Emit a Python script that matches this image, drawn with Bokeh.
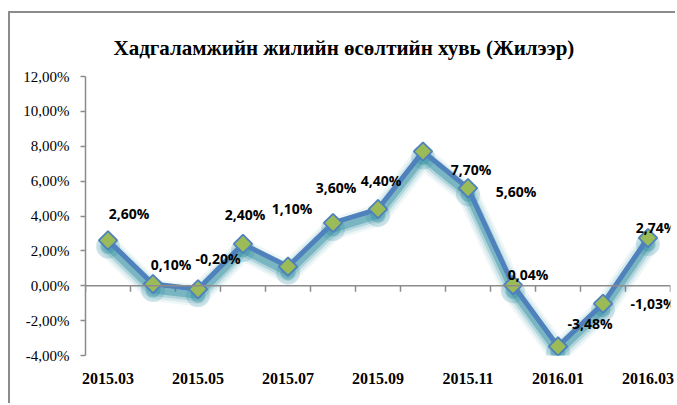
import math
from bokeh.plotting import figure
from bokeh.models import (Range1d, FixedTicker, Span, Title,
                          ColumnDataSource, LinearAxis)
from bokeh.core.properties import value
from bokeh.embed import file_html
from bokeh.resources import INLINE

# ---- data ----
categories = ["2015.03", "2015.04", "2015.05", "2015.06", "2015.07", "2015.08",
              "2015.09", "2015.10", "2015.11", "2015.12", "2016.01", "2016.02", "2016.03"]
growth = [2.60, 0.10, -0.20, 2.40, 1.10, 3.60, 4.40, 7.70, 5.60, 0.04, -3.48, -1.03, 2.74]
point_labels = ["2,60%", "0,10%", "-0,20%", "2,40%", "1,10%", "3,60%", "4,40%",
                "7,70%", "5,60%", "0,04%", "-3,48%", "-1,03%", "2,74%"]
y_ticks = [-4, -2, 0, 2, 4, 6, 8, 10, 12]
title_text = "Хадгаламжийн жилийн өсөлтийн хувь (Жилээр)"

# label placement (style, screen px)
label_dx = [21, 18, 20, 2, 4, 3, 3, 48, 48, 15, 32, 50, 8]
label_dy = [-27, -20, -31, -29, -58, -35, -29, 18, 3, -11, -23, 0, -10]

xs = list(range(len(categories)))
src = ColumnDataSource(dict(x=xs, y=growth, lab=point_labels, dx=label_dx, dy=label_dy))

p = figure(width=667, height=392, output_backend="svg", toolbar_location=None,
           x_range=Range1d(-0.5, len(categories) - 0.5), y_range=Range1d(-4, 12),
           min_border_left=75, min_border_right=7, min_border_top=63, min_border_bottom=50,
           x_axis_location=None, y_axis_location=None)
p.styles = {"border-left": "2px solid #8c8c8c", "border-top": "2px solid #8c8c8c",
            "margin-left": "8px", "margin-top": "11px"}
p.grid.visible = False
p.outline_line_color = None
p.background_fill_color = "white"
p.border_fill_color = "white"

# shadow range (shifted so that the glow sits a few px below the line)
p.extra_y_ranges = {"shadow": Range1d(-4 + 0.35, 12 + 0.35)}

# y axis
yax = LinearAxis(ticker=FixedTicker(ticks=y_ticks))
yax.major_label_overrides = {t: ("%.2f%%" % t).replace(".", ",") for t in y_ticks}
yax.axis_line_color = "#8c8c8c"
yax.axis_line_width = 1.5
yax.major_tick_line_color = "#8c8c8c"
yax.major_tick_line_width = 1.5
yax.major_tick_out = 5
yax.major_tick_in = 0
yax.minor_tick_line_color = None
yax.major_label_standoff = 11
yax.major_label_text_font = "Liberation Serif"
yax.major_label_text_font_size = "15px"
yax.major_label_text_color = "black"
p.add_layout(yax, "left")

# x axis (labels only)
xax = LinearAxis(ticker=FixedTicker(ticks=xs[::2]))
xax.major_label_overrides = {i: categories[i] for i in xs}
xax.axis_line_color = None
xax.major_tick_line_color = None
xax.minor_tick_line_color = None
xax.major_label_standoff = 11
xax.major_label_text_font = "Liberation Serif"
xax.major_label_text_font_style = "bold"
xax.major_label_text_font_size = "16px"
xax.major_label_text_color = "black"
p.add_layout(xax, "below")

# zero line and category boundary ticks
p.add_layout(Span(location=0, dimension="width", line_color="#8c8c8c", line_width=1.5))
bounds = [i - 0.5 for i in range(len(categories) + 1)]
p.ray(x=bounds, y=[0] * len(bounds), length=6, angle=-math.pi / 2,
      length_units="screen", line_color="#8c8c8c", line_width=1.5)

# glow / shadow
for w, a in [(22, 0.08), (17, 0.12), (12, 0.22), (7, 0.4)]:
    p.line("x", "y", source=src, y_range_name="shadow", line_color="#2A8A9E",
           line_width=w, line_alpha=a, line_join="round", line_cap="round")
p.scatter("x", "y", source=src, y_range_name="shadow", marker="circle", size=24,
          fill_color="#2A8A9E", fill_alpha=0.2, line_color=None)
p.scatter("x", "y", source=src, y_range_name="shadow", marker="circle", size=15,
          fill_color="#2A8A9E", fill_alpha=0.35, line_color=None)

# main series
p.line("x", "y", source=src, line_color="#4F81BD", line_width=5, line_join="round")
p.scatter("x", "y", source=src, marker="square", angle=math.pi / 4, size=13,
          fill_color="#9BBB59", line_color="#4F81BD", line_width=1.8)

# data labels
p.text("x", "y", text="lab", source=src, x_offset="dx", y_offset="dy",
       text_align="center", text_baseline="middle",
       text_font=value("Open Sans"), text_font_style="bold",
       text_font_size="14px", text_color="black")

# title
t = Title(text=title_text, align="left", offset=28, standoff=33,
          text_font="Liberation Serif", text_font_style="bold",
          text_font_size="21px", text_color="black")
p.add_layout(t, "above")

open("out.html", "w").write(file_html(p, INLINE))
